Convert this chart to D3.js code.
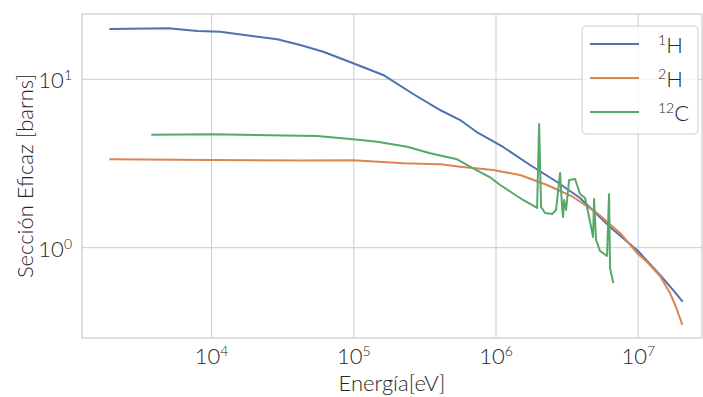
<!DOCTYPE html>
<html><head><meta charset="utf-8">
<script src="https://cdn.jsdelivr.net/npm/d3@7"></script>
<style>
body{margin:0;background:#fff}
text{font-family:Lato,"Open Sans",sans-serif;fill:#262626;font-weight:300}
</style>
</head><body>
<svg id="chart" width="703" height="397"></svg>
<script>
// ---- data (energy in eV, cross section in barns) ----
const energyH1 = [1941, 4965, 7935, 11510, 18700, 28950, 42020, 60950, 99000, 160900, 261500, 404800, 559400, 748400, 1.1216e6, 1.736e6, 2.688e6, 3.899e6, 6.336e6, 9.97e6, 1.4228e7, 1.756e7, 2.032e7];
const sigmaH1  = [19.89, 20.09, 19.36, 19.18, 18.15, 17.28, 15.98, 14.58, 12.45, 10.61, 8.18, 6.57, 5.73, 4.80, 3.963, 3.098, 2.455, 1.973, 1.327, 0.956, 0.6886, 0.561, 0.4827];

const energyH2 = [1941, 9950, 42020, 99000, 222500, 404800, 559400, 954100, 1.477e6, 2.287e6, 3.482e6, 5.134e6, 7.450e6, 9.97e6, 1.153e7, 1.4228e7, 1.673e7, 1.843e7, 2.032e7];
const sigmaH2  = [3.349, 3.318, 3.295, 3.31, 3.171, 3.128, 3.027, 2.893, 2.702, 2.357, 2.001, 1.607, 1.223, 0.9175, 0.8223, 0.679, 0.538, 0.4445, 0.3523];

const energyC12 = [3831, 9950, 42020, 55310, 99000, 146000, 237300, 344300, 532900, 690500, 909100, 1.0686e6, 1.550e6, 1.945e6, 2.009e6, 2.075e6, 2.213e6, 2.479e6, 2.644e6, 2.821e6, 2.914e6, 2.962e6, 3.010e6, 3.109e6, 3.160e6, 3.264e6, 3.597e6, 3.899e6, 4.229e6, 4.438e6, 4.813e6, 4.892e6, 5.052e6, 5.389e6, 6.036e6, 6.234e6, 6.336e6, 6.653e6];
const sigmaC12  = [4.688, 4.714, 4.625, 4.606, 4.401, 4.260, 3.979, 3.636, 3.349, 2.961, 2.619, 2.357, 1.920, 1.721, 5.427, 1.745, 1.607, 1.585, 1.674, 2.777, 1.745, 1.521, 1.920, 1.674, 1.920, 2.523, 2.559, 2.084, 1.973, 1.629, 1.157, 1.946, 1.111, 0.956, 0.8927, 2.084, 0.7578, 0.6257];

const seriesNames = [["1", "H"], ["2", "H"], ["12", "C"]];
const seriesColors = ["#4c72b0", "#dd8452", "#55a868"];
const xTickValues = [1e4, 1e5, 1e6, 1e7];
const yTickValues = [1, 10];
const xLabel = "Energía[eV]";
const yLabel = "Sección Eficaz [barns]";

// ---- layout ----
const L = 82, R = 702, T = 14, B = 338;
const svg = d3.select("#chart");
const x = d3.scaleLog().domain([1227, 2.808e7]).range([L, R]);
const y = d3.scaleLog().domain([0.2909, 24.42]).range([B, T]);

// grid
const g = svg.append("g");
g.selectAll(".gx").data(xTickValues).join("line")
  .attr("x1", d => x(d)).attr("x2", d => x(d)).attr("y1", T).attr("y2", B)
  .attr("stroke", "#cccccc").attr("stroke-width", 1);
g.selectAll(".gy").data(yTickValues).join("line")
  .attr("y1", d => y(d)).attr("y2", d => y(d)).attr("x1", L).attr("x2", R)
  .attr("stroke", "#cccccc").attr("stroke-width", 1);

// spines
svg.append("rect").attr("x", L).attr("y", T).attr("width", R - L).attr("height", B - T)
  .attr("fill", "none").attr("stroke", "#cccccc").attr("stroke-width", 1.25);

// lines
const series = [
  energyH1.map((e, i) => [e, sigmaH1[i]]),
  energyH2.map((e, i) => [e, sigmaH2[i]]),
  energyC12.map((e, i) => [e, sigmaC12[i]])
];
const line = d3.line().x(d => x(d[0])).y(d => y(d[1]));
series.forEach((s, i) => {
  svg.append("path").attr("d", line(s)).attr("fill", "none")
    .attr("stroke", seriesColors[i]).attr("stroke-width", 2)
    .attr("stroke-linejoin", "round").attr("stroke-linecap", "square");
});

// tick labels
const exp = d => Math.round(Math.log10(d));
xTickValues.forEach(d => {
  const t = svg.append("text").attr("x", x(d)).attr("y", 364)
    .attr("text-anchor", "middle").attr("font-size", 22);
  t.append("tspan").text("10");
  t.append("tspan").attr("font-size", 14).attr("dy", -8).text(exp(d));
});
yTickValues.forEach(d => {
  const t = svg.append("text").attr("x", 72).attr("y", y(d) + 9)
    .attr("text-anchor", "end").attr("font-size", 22);
  t.append("tspan").text("10");
  t.append("tspan").attr("font-size", 14).attr("dy", -8).text(exp(d));
});

// axis labels
svg.append("text").attr("x", (L + R) / 2).attr("y", 391)
  .attr("text-anchor", "middle").attr("font-size", 22).text(xLabel);
svg.append("text").attr("transform", `translate(33,${(T + B) / 2}) rotate(-90)`)
  .attr("text-anchor", "middle").attr("font-size", 22).text(yLabel);

// legend
const lg = svg.append("g");
lg.append("rect").attr("x", 582).attr("y", 26).attr("width", 116).attr("height", 108)
  .attr("rx", 4).attr("fill", "#ffffff").attr("fill-opacity", 0.8)
  .attr("stroke", "#cccccc").attr("stroke-width", 1);
seriesNames.forEach((n, i) => {
  const yy = 44 + i * 34;
  lg.append("line").attr("x1", 590).attr("x2", 639).attr("y1", yy).attr("y2", yy)
    .attr("stroke", seriesColors[i]).attr("stroke-width", 2);
  const t = lg.append("text").attr("x", 658).attr("y", yy + 9).attr("font-size", 22);
  t.append("tspan").attr("font-size", 14).attr("dy", -8).text(n[0]);
  t.append("tspan").attr("dy", 8).text(n[1]);
});
</script>
</body></html>
